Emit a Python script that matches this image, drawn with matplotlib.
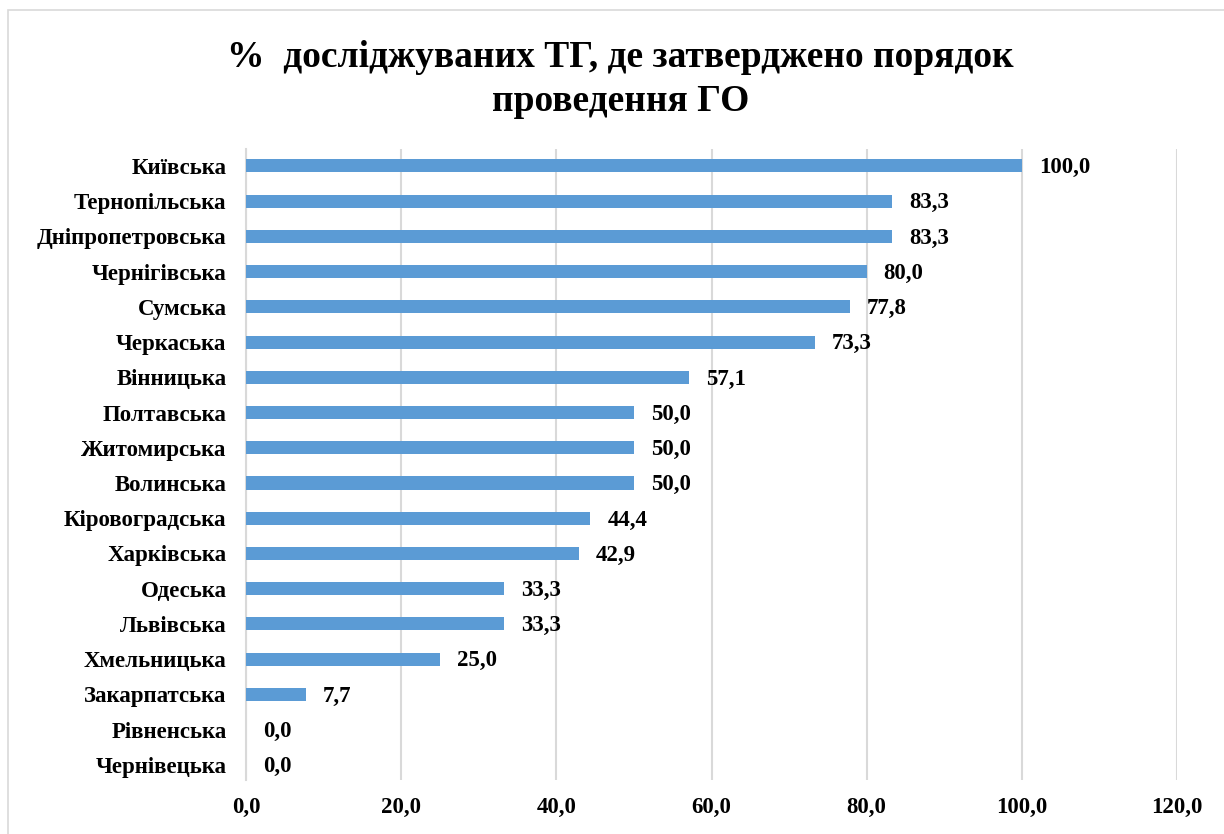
import matplotlib.pyplot as plt
from matplotlib.patches import Rectangle

# Data
regions = ['Київська', 'Тернопільська', 'Дніпропетровська', 'Чернігівська', 'Сумська',
           'Черкаська', 'Вінницька', 'Полтавська', 'Житомирська', 'Волинська',
           'Кіровоградська', 'Харківська', 'Одеська', 'Львівська', 'Хмельницька',
           'Закарпатська', 'Рівненська', 'Чернівецька']
values = [100.0, 83.3, 83.3, 80.0, 77.8, 73.3, 57.1, 50.0, 50.0, 50.0,
          44.4, 42.9, 33.3, 33.3, 25.0, 7.7, 0.0, 0.0]
xticks = [0, 20, 40, 60, 80, 100, 120]

plt.rcParams['font.family'] = ['Liberation Serif', 'DejaVu Serif']
plt.rcParams['font.weight'] = 'bold'

fig = plt.figure(figsize=(12.24, 8.34), dpi=100)

# outer chart border
fig.patches.append(Rectangle((8/1224, -0.05), 1.1, (834-10)/834 + 0.05, transform=fig.transFigure,
                             fill=False, edgecolor='#D9D9D9', linewidth=1.2))

ax = fig.add_axes([246/1224, 54/834, 931/1224, 631/834])
y = range(len(regions))
ax.barh(y, values, height=0.37, color='#5B9BD5', zorder=3)
ax.set_ylim(len(regions) - 0.57, -0.48)
ax.set_xlim(0, 120)

for i, v in enumerate(values):
    ax.text(v + 2.2, i + 0.05, f'{v:.1f}'.replace('.', ','), va='center', ha='left',
            fontsize=16.5, fontweight='bold')

ax.set_yticks(list(y))
ax.set_yticklabels(regions, fontsize=16.5, fontweight='bold')
ax.set_xticks(xticks)
ax.set_xticklabels([f'{t:.1f}'.replace('.', ',') for t in xticks], fontsize=16.5, fontweight='bold')
ax.tick_params(axis='both', length=0)
ax.tick_params(axis='y', pad=14)
ax.tick_params(axis='x', pad=12)

ax.grid(axis='x', color='#D9D9D9', linewidth=1.5, zorder=0)
for s in ['top', 'right', 'bottom']:
    ax.spines[s].set_visible(False)
ax.spines['left'].set_color('#D9D9D9')
ax.spines['left'].set_linewidth(1.5)

fig.text(0.507, 0.952, '%  досліджуваних ТГ, де затверджено порядок\nпроведення ГО',
         ha='center', va='top', fontsize=27, fontweight='bold', linespacing=1.35)

fig.savefig('out.png', dpi=100)
